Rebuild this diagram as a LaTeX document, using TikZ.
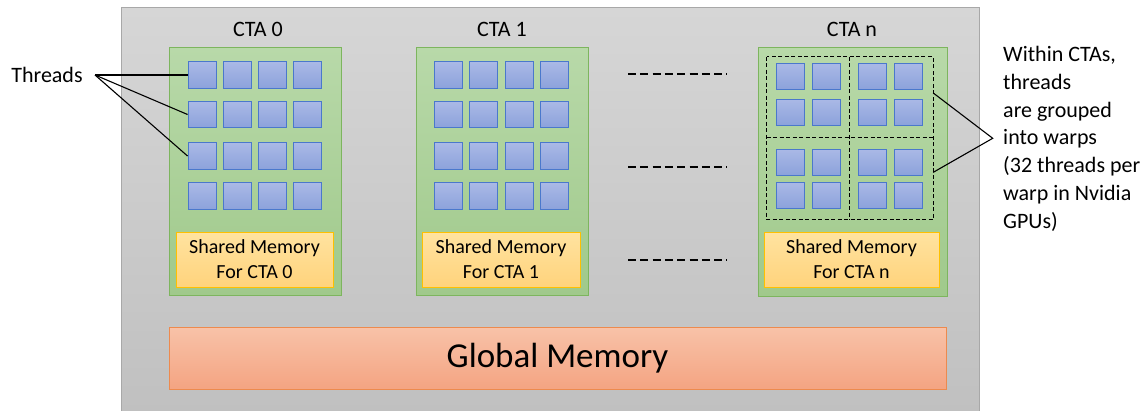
\documentclass[tikz,border=0pt]{standalone}
\usepackage{fontspec}
\setmainfont{Carlito}
\usetikzlibrary{calc}
\definecolor{bgtop}{HTML}{D6D6D6}
\definecolor{bgbot}{HTML}{C0C0C0}
\definecolor{bgline}{HTML}{A8A8A8}
\definecolor{grtop}{HTML}{B8D9A9}
\definecolor{grbot}{HTML}{A0C98B}
\definecolor{grline}{HTML}{7DB55E}
\definecolor{bltop}{HTML}{AAB9E6}
\definecolor{blbot}{HTML}{8CA2DB}
\definecolor{blline}{HTML}{4A78CC}
\definecolor{yetop}{HTML}{FFE3A0}
\definecolor{yebot}{HTML}{FFD37C}
\definecolor{yeline}{HTML}{FFC000}
\definecolor{ortop}{HTML}{F8C2A8}
\definecolor{orbot}{HTML}{F4A482}
\definecolor{orline}{HTML}{ED8A4E}
\tikzset{
  bgbox/.style={draw=bgline, line width=0.8pt, top color=bgtop, bottom color=bgbot, inner sep=0pt},
  ctabox/.style={draw=grline, line width=0.9pt, top color=grtop, bottom color=grbot, inner sep=0pt},
  thr/.style={draw=blline, line width=0.9pt, top color=bltop, bottom color=blbot, inner sep=0pt, minimum width=28pt, minimum height=26.5pt},
  shm/.style={draw=yeline, line width=0.9pt, top color=yetop, bottom color=yebot, inner sep=0pt, minimum height=55pt, align=center, font=\fontsize{20}{25}\selectfont},
  glob/.style={draw=orline, line width=0.9pt, top color=ortop, bottom color=orbot, inner sep=0pt, font=\fontsize{35}{40}\selectfont},
  lab/.style={font=\fontsize{22}{27.8}\selectfont, inner sep=0pt},
  warpbox/.style={inner sep=0pt},
  warpline/.style={dash pattern=on 4pt off 2.5pt, line width=0.9pt},
  gapdash/.style={line width=1.4pt, dash pattern=on 8pt off 4.3pt},
  conn/.style={line width=1.1pt}
}
\begin{document}
\begin{tikzpicture}[x=1pt,y=-1pt]
\useasboundingbox (0,0) rectangle (1148,410);
\fill[white] (0,0) rectangle (1148,410);
\begin{scope}
\clip (0,0) rectangle (1148,410);
\node[bgbox, minimum width=858pt, minimum height=406pt, anchor=north west] (bg) at (121,7) {};
\end{scope}
% CTA boxes
\node[ctabox, minimum width=172pt, minimum height=248.5pt] (c0) at (255,171.25) {};
\node[ctabox, minimum width=172pt, minimum height=248.5pt] (c1) at (502,171.25) {};
\node[ctabox, minimum width=189pt, minimum height=249pt] (cn) at (852.5,171.75) {};
\node[lab, anchor=base] (l0) at (258,36) {CTA 0};
\node[lab, anchor=base] (l1) at (502,36) {CTA 1};
\node[lab, anchor=base] (ln) at (852,36) {CTA n};
% threads CTA 0 and CTA 1
\foreach \r/\y in {1/75,2/114.5,3/156,4/196}{
  \foreach \c in {1,2,3,4}{
    \node[thr] (a\r\c) at ({202+35.2*(\c-1)},\y) {};
    \node[thr] (b\r\c) at ({448.5+35.3*(\c-1)},\y) {};
  }
}
% threads CTA n
\foreach \r/\y in {1/76.3,2/112,3/162,4/195.2}{
  \foreach \c/\x in {1/790.7,2/826.7,3/872.3,4/908.2}{
    \node[thr, minimum height=26pt] (n\r\c) at (\x,\y) {};
  }
}
% warp boxes (named regions) and their dashed outline
\node[warpbox, minimum width=82.6pt, minimum height=80pt, anchor=north west] (w1) at (766.7,56.7) {};
\node[warpbox, minimum width=83.4pt, minimum height=80pt, anchor=north west] (w2) at (849.3,56.7) {};
\node[warpbox, minimum width=82.6pt, minimum height=82.6pt, anchor=north west] (w3) at (766.7,136.7) {};
\node[warpbox, minimum width=83.4pt, minimum height=82.6pt, anchor=north west] (w4) at (849.3,136.7) {};
\draw[warpline] (w1.north west) rectangle (w4.south east);
\draw[warpline] (w1.north east) -- (w3.south east);
\draw[warpline] (w1.south west) -- (w2.south east);
% shared memory
\node[shm, minimum width=157pt] (s0) at (254.5,259.5) {Shared Memory\\For CTA 0};
\node[shm, minimum width=158pt] (s1) at (501,259.5) {Shared Memory\\For CTA 1};
\node[shm, minimum width=175pt] (sn) at (851.5,259.5) {Shared Memory\\For CTA n};
% global memory
\node[glob, minimum width=777pt, minimum height=61.7pt] (gm) at (557.5,358.2) {Global Memory};
% gap dashes
\foreach \y in {74,167,260}{
  \draw[gapdash] (628,\y) -- (727,\y);
}
% threads label
\node[lab] (thr) at (47,75) {Threads};
\coordinate (tj) at (95,75);
\draw[conn] (tj) -- (a11.west);
\draw[conn] (tj) -- (a21.west);
\draw[conn] (tj) -- (a31.west);
% warps label
\node[lab, anchor=north west, align=left] (wl) at (1003,46) {Within CTAs,\\threads\\are grouped\\into warps\\(32 threads per\\warp in Nvidia\\GPUs)};
\coordinate (wj) at (992.7,138.3);
\draw[conn] ($(w2.north east)!0.45!(w2.south east)$) -- (wj) -- ($(w4.north east)!0.43!(w4.south east)$);
\end{tikzpicture}
\end{document}
